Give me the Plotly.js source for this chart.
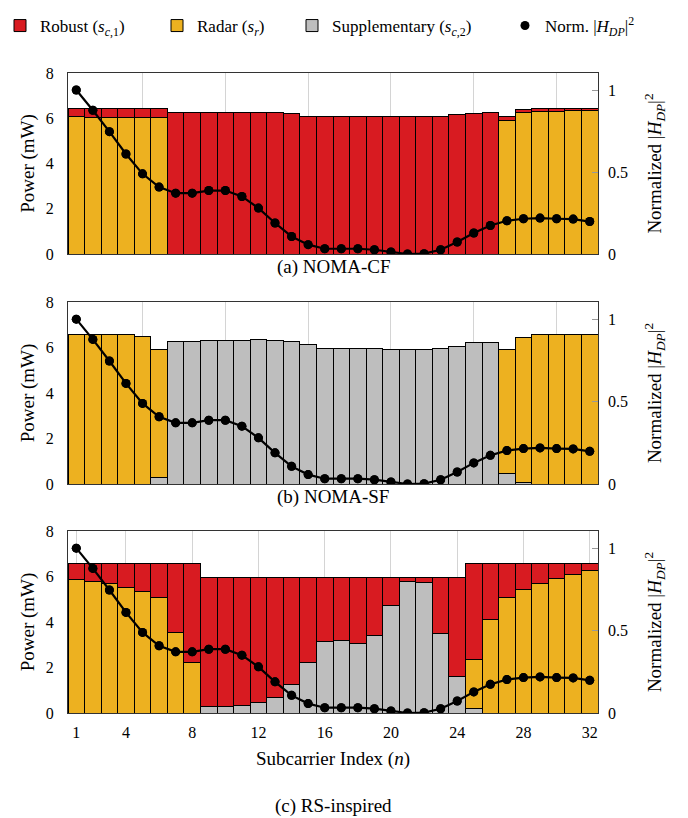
<!DOCTYPE html>
<html><head><meta charset="utf-8">
<script src="https://cdn.plot.ly/plotly-3.0.1.min.js"></script>
<style>html,body{margin:0;padding:0;background:#fff}</style>
</head><body><div id="chart" style="width:688px;height:818px"></div>
<script>
// ---- data ----
const subcarrier = [1,2,3,4,5,6,7,8,9,10,11,12,13,14,15,16,17,18,19,20,21,22,23,24,25,26,27,28,29,30,31,32];
const normH = [1.0,0.877,0.746,0.61,0.489,0.408,0.371,0.371,0.387,0.387,0.351,0.28,0.189,0.107,0.057,0.032,
               0.032,0.032,0.026,0.012,0.0,0.002,0.026,0.073,0.128,0.174,0.203,0.215,0.219,0.215,0.213,0.198];

// (a) NOMA-CF
const radarA  = [6.09,6.02,6.02,6.02,6.02,6.02,null,null,null,null,null,null,null,null,null,null,
                 null,null,null,null,null,null,null,null,null,null,5.91,6.24,6.28,6.31,6.34,6.36];
const robustA = [0.33,0.40,0.40,0.40,0.40,0.40,6.27,6.27,6.27,6.27,6.27,6.27,6.27,6.22,6.09,6.09,
                 6.09,6.09,6.09,6.09,6.09,6.09,6.09,6.15,6.22,6.25,0.16,0.16,0.14,0.11,0.08,0.06];
const suppA   = [null,null,null,null,null,null,null,null,null,null,null,null,null,null,null,null,
                 null,null,null,null,null,null,null,null,null,null,null,null,null,null,null,null];

// (b) NOMA-SF
const radarB  = [6.55,6.55,6.55,6.55,6.48,5.63,null,null,null,null,null,null,null,null,null,null,
                 null,null,null,null,null,null,null,null,null,null,5.49,6.40,6.55,6.55,6.55,6.55];
const robustB = [null,null,null,null,null,null,null,null,null,null,null,null,null,null,null,null,
                 null,null,null,null,null,null,null,null,null,null,null,null,null,null,null,null];
const suppB   = [null,null,null,null,null,0.30,6.27,6.27,6.32,6.32,6.32,6.34,6.32,6.28,6.15,5.96,
                 5.95,5.95,5.96,5.93,5.93,5.93,5.95,6.03,6.20,6.24,0.44,0.06,null,null,null,null];

// (c) RS-inspired
const radarC  = [5.87,5.78,5.68,5.52,5.33,5.06,3.54,2.23,null,null,null,null,null,null,null,null,
                 null,null,null,null,null,null,null,null,2.14,4.13,5.09,5.42,5.68,5.90,6.08,6.26];
const robustC = [0.71,0.80,0.90,1.06,1.25,1.52,3.04,4.35,5.68,5.68,5.61,5.51,5.26,4.69,3.71,2.81,
                 2.76,2.91,2.53,1.22,0.15,0.22,2.45,4.33,4.25,2.45,1.49,1.16,0.90,0.68,0.50,0.32];
const suppC   = [null,null,null,null,null,null,null,null,0.27,0.27,0.34,0.44,0.69,1.26,2.24,3.14,
                 3.19,3.04,3.42,4.73,5.80,5.73,3.50,1.62,0.19,null,null,null,null,null,null,null];

const panelTitles = ['(a) NOMA-CF','(b) NOMA-SF','(c) RS-inspired'];
const xTickVals = [1,4,8,12,16,20,24,28,32];
const gridVals5 = [5,10,15,20,25,30];

// ---- styling ----
const RED = '#D81B21', YEL = '#EDB120', GRAY = '#BEBEBE';
const FONT = '"Liberation Serif", "Times New Roman", Times, serif';
const names = {
  robust: 'Robust (<i>s</i><sub><i>c</i>,1</sub>)',
  radar: 'Radar (<i>s<sub>r</sub></i>)',
  supp: 'Supplementary (<i>s</i><sub><i>c</i>,2</sub>)',
  norm: 'Norm. |<i>H<sub>DP</sub></i>|<sup>2</sup>'
};

const panels = [
  {supp: suppA, radar: radarA, robust: robustA},
  {supp: suppB, radar: radarB, robust: robustB},
  {supp: suppC, radar: radarC, robust: robustC}
];

const traces = [];
panels.forEach((p, i) => {
  const xa = i === 0 ? 'x' : 'x' + (i + 1);
  const ya = i === 0 ? 'y' : 'y' + (i + 1);
  const ya2 = 'y' + (i + 4);
  const first = i === 0;
  const bar = (y, color, name, lg) => ({
    type: 'bar', x: subcarrier, y: y, xaxis: xa, yaxis: ya, name: name,
    legend: lg, showlegend: first,
    marker: {color: color, line: {color: '#000', width: 1}}, width: 1
  });
  traces.push(bar(p.supp, GRAY, names.supp, 'legend3'));
  traces.push(bar(p.radar, YEL, names.radar, 'legend2'));
  traces.push(bar(p.robust, RED, names.robust, 'legend'));
  traces.push({
    type: 'scatter', mode: 'lines+markers', x: subcarrier, y: normH, xaxis: xa, yaxis: ya2,
    line: {color: '#000', width: 2.2}, marker: {color: '#000', size: 9}, showlegend: false
  });
  traces.push({
    type: 'scatter', mode: 'markers', x: subcarrier, y: normH, xaxis: xa, yaxis: ya2,
    name: names.norm, legend: 'legend4', showlegend: first,
    marker: {color: '#000', size: 9}
  });
});

// plot area: x 68..598, y 73..713
const T = 73, B = 713, H = B - T;
const dom = (top, bot) => [(B - bot) / H, (B - top) / H];
const domains = [dom(73, 254), dom(302, 484), dom(531, 713)];

const legendAt = (px) => ({
  orientation: 'h', x: px / 688, xref: 'container', y: 1 - 26 / 818, yref: 'container',
  xanchor: 'left', yanchor: 'middle', font: {family: FONT, size: 17, color: '#000'},
  bgcolor: 'rgba(0,0,0,0)', borderwidth: 0
});

const layout = {
  width: 688, height: 818,
  margin: {l: 68, r: 90, t: T, b: 818 - B, pad: 0},
  paper_bgcolor: '#fff', plot_bgcolor: '#fff',
  font: {family: FONT, size: 16, color: '#000'},
  barmode: 'stack', bargap: 0,
  showlegend: true,
  legend: legendAt(0),
  legend2: legendAt(157),
  legend3: legendAt(292),
  legend4: legendAt(505),
  annotations: [],
  shapes: []
};

for (let i = 0; i < 3; i++) {
  const sx = i === 0 ? '' : String(i + 1);
  const last = i === 2;
  const xa = {
    domain: [0, 1], anchor: 'y' + sx, range: [0.5, 32.5],
    tickmode: 'array', tickvals: last ? xTickVals : gridVals5,
    showticklabels: last, ticks: '', ticklabelstandoff: 5,
    showgrid: true, gridcolor: '#d4d4d4', gridwidth: 1, zeroline: false,
    showline: true, linecolor: '#333', linewidth: 1, mirror: true,
    tickfont: {family: FONT, size: 16}
  };
  if (last) xa.title = {text: 'Subcarrier Index (<i>n</i>)', font: {family: FONT, size: 19}, standoff: 11};
  layout['xaxis' + sx] = xa;
  layout['yaxis' + sx] = {
    domain: domains[i], anchor: 'x' + sx, range: [0, 8], dtick: 2, tick0: 0,
    showgrid: false, zeroline: false,
    showline: true, linecolor: '#333', linewidth: 1, mirror: true,
    ticks: '', ticklabelstandoff: 10, tickfont: {family: FONT, size: 16},
    title: {text: 'Power (mW)', font: {family: FONT, size: 19}, standoff: 6}
  };
  layout['yaxis' + (i + 4)] = {
    overlaying: 'y' + sx, anchor: 'x' + sx, side: 'right', range: [0, 1.104],
    tickmode: 'array', tickvals: [0, 0.5, 1], ticktext: ['0', '0.5', '1'],
    ticks: 'inside', ticklen: 6, tickcolor: '#999', tickwidth: 1,
    ticklabelstandoff: 9,
    showgrid: false, zeroline: false, showline: false,
    tickfont: {family: FONT, size: 16},
    title: {text: 'Normalized |<i>H<sub>DP</sub></i>|<sup>2</sup>', font: {family: FONT, size: 19}, standoff: 20}
  };
}

const capY = [267, 497, 806];
panelTitles.forEach((t, i) => {
  layout.annotations.push({
    text: t, xref: 'paper', x: 0.5, yref: 'paper', y: (B - capY[i]) / H,
    xanchor: 'center', yanchor: 'middle', showarrow: false,
    font: {family: FONT, size: 19, color: '#000'}
  });
});

Plotly.newPlot('chart', traces, layout, {staticPlot: true, displayModeBar: false});
</script>
</body></html>
